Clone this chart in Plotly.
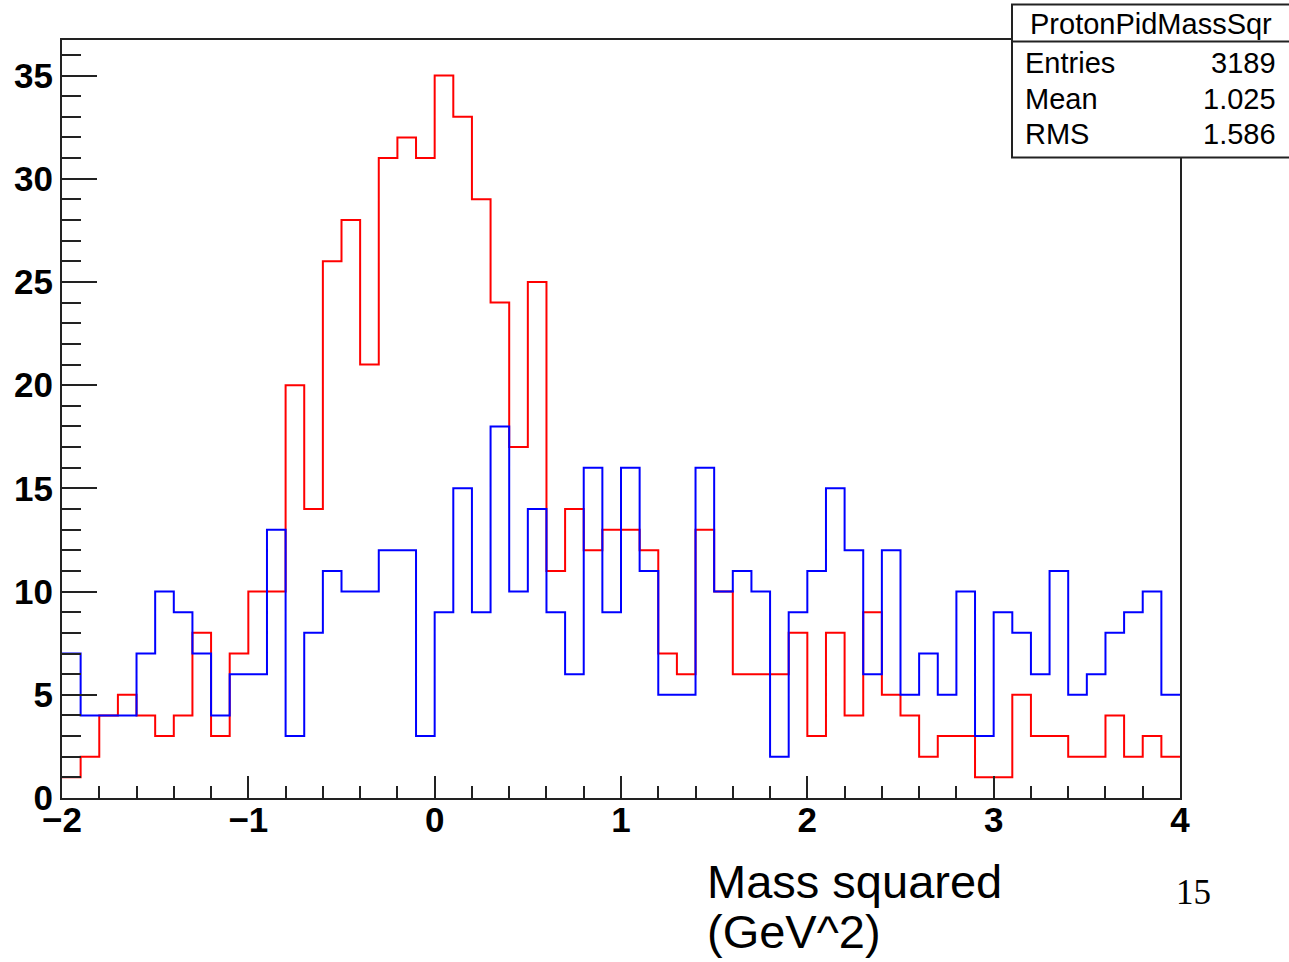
import numpy as np
import plotly.graph_objects as go

# ---- data ----
x_min = -2.0
x_max = 4.0
n_bins = 60

red_counts = [1, 2, 4, 5, 4, 3, 4, 8, 3, 7,
              10, 10, 20, 14, 26, 28, 21, 31, 32, 31,
              35, 33, 29, 24, 17, 25, 11, 14, 12, 13,
              13, 12, 7, 6, 13, 10, 6, 6, 6, 8,
              3, 8, 4, 9, 5, 4, 2, 3, 3, 1,
              1, 5, 3, 3, 2, 2, 4, 2, 3, 2]

blue_counts = [7, 4, 4, 4, 7, 10, 9, 7, 4, 6,
               6, 13, 3, 8, 11, 10, 10, 12, 12, 3,
               9, 15, 9, 18, 10, 14, 9, 6, 16, 9,
               16, 11, 5, 5, 16, 10, 11, 10, 2, 9,
               11, 15, 12, 6, 12, 5, 7, 5, 10, 3,
               9, 8, 6, 11, 5, 6, 8, 9, 10, 5]

stats_title = "ProtonPidMassSqr"
stats_labels = ["Entries", "Mean", "RMS"]
stats_values = ["3189", "1.025", "1.586"]

x_title_lines = ["Mass squared", "(GeV^2)"]
page_number = "15"

# ---- figure ----
edges = np.linspace(x_min, x_max, n_bins + 1)

fig = go.Figure()
for counts, color in [(red_counts, "#ff0000"), (blue_counts, "#0000ff")]:
    fig.add_trace(go.Scatter(
        x=edges, y=list(counts) + [counts[-1]],
        mode="lines", line=dict(color=color, width=2, shape="hv"),
        showlegend=False, hoverinfo="skip"))

W, H = 1289, 962
L, R, T, B = 62, 1180, 39.5, 798


def pxx(v):
    return (v - L) / (R - L)


def pyy(v):
    return (B - v) / (B - T)


axis_col = "#222222"
tickfont = dict(family="Liberation Sans", size=35, color="black", weight="bold")

fig.update_layout(
    width=W, height=H,
    margin=dict(l=L, r=W - R, t=T, b=H - B, pad=0, autoexpand=False),
    paper_bgcolor="white", plot_bgcolor="white",
    xaxis=dict(range=[x_min, x_max], dtick=1, tick0=0, automargin=False,
               showgrid=False, zeroline=False,
               showline=True, linecolor=axis_col, linewidth=2, mirror=True,
               ticks="inside", ticklen=22, tickwidth=2, tickcolor=axis_col,
               minor=dict(dtick=0.2, ticks="inside", ticklen=12, tickwidth=2,
                          tickcolor=axis_col, showgrid=False),
               tickfont=tickfont, ticklabelstandoff=-10),
    yaxis=dict(range=[0, 36.72], dtick=5, tick0=0, automargin=False,
               showgrid=False, zeroline=False,
               showline=True, linecolor=axis_col, linewidth=2, mirror=True,
               ticks="inside", ticklen=35, tickwidth=2, tickcolor=axis_col,
               minor=dict(dtick=1, ticks="inside", ticklen=19, tickwidth=2,
                          tickcolor=axis_col, showgrid=False),
               tickfont=tickfont, ticklabelstandoff=0),
)

# stats box
box_l, box_r, box_t, box_b, box_div = 1012, 1320, 4, 157, 41
fig.add_shape(type="rect", xref="paper", yref="paper",
              x0=pxx(box_l), x1=pxx(box_r), y0=pyy(box_b), y1=pyy(box_t),
              fillcolor="white", line=dict(color=axis_col, width=2), layer="above")
fig.add_shape(type="line", xref="paper", yref="paper",
              x0=pxx(box_l), x1=pxx(box_r), y0=pyy(box_div), y1=pyy(box_div),
              line=dict(color=axis_col, width=2), layer="above")

sfont = dict(family="Liberation Sans", size=29, color="black")
fig.add_annotation(xref="paper", yref="paper", x=pxx(1151), y=pyy(23),
                   text=stats_title, showarrow=False, font=sfont,
                   xanchor="center", yanchor="middle")
for i, (lab, val) in enumerate(zip(stats_labels, stats_values)):
    yc = 63 + i * 35.5
    fig.add_annotation(xref="paper", yref="paper", x=pxx(1023), y=pyy(yc),
                       text=lab, showarrow=False, font=sfont,
                       xanchor="left", yanchor="middle")
    fig.add_annotation(xref="paper", yref="paper", x=pxx(1278), y=pyy(yc),
                       text=val, showarrow=False, font=sfont,
                       xanchor="right", yanchor="middle")

# slide texts
tfont = dict(family="Liberation Sans", size=47, color="black")
for i, line in enumerate(x_title_lines):
    fig.add_annotation(xref="paper", yref="paper", x=pxx(705), y=pyy(882 + i * 50),
                       text=line, showarrow=False, font=tfont,
                       xanchor="left", yanchor="middle")
fig.add_annotation(xref="paper", yref="paper", x=pxx(1193), y=pyy(893),
                   text=page_number, showarrow=False,
                   font=dict(family="Liberation Serif", size=35, color="black"),
                   xanchor="center", yanchor="middle")

fig.write_html("out.html")
